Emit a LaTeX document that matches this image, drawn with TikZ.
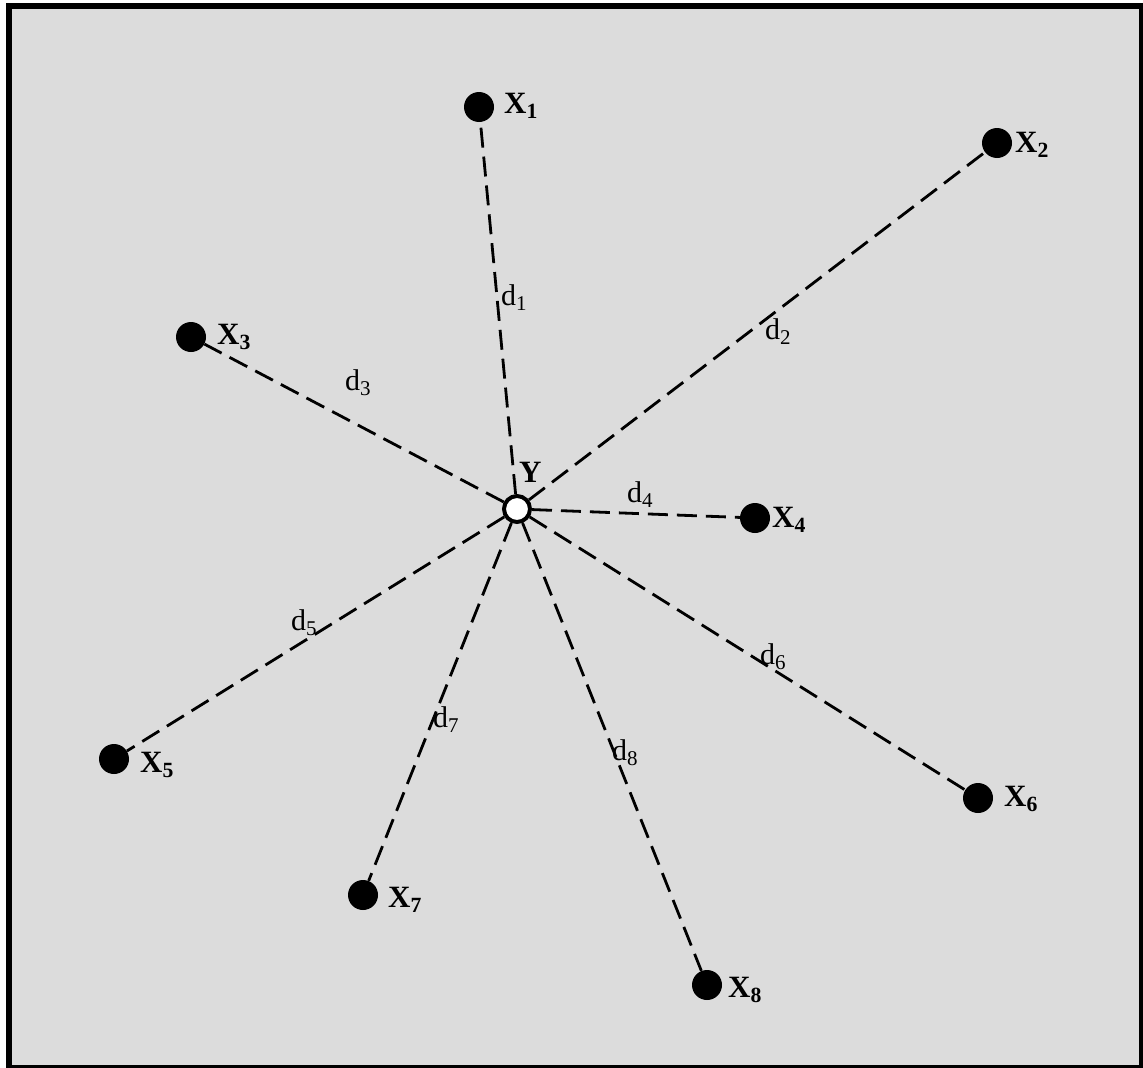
\documentclass[tikz,border=0pt]{standalone}
\usepackage{fontspec}
\setmainfont{Liberation Serif}
\definecolor{bg}{RGB}{220,220,220}
\tikzset{
  pt/.style={circle,fill=black,inner sep=0pt,minimum size=30pt},
  ctr/.style={circle,draw=black,fill=white,line width=4pt,inner sep=0pt,minimum size=26pt},
  xlab/.style={anchor=base west,inner sep=0pt,font=\fontsize{31}{36}\selectfont\bfseries},
  dlab/.style={anchor=base west,inner sep=0pt,font=\fontsize{30}{34}\selectfont},
  link/.style={line width=2.8pt,dash pattern=on 20pt off 9pt},
}
\begin{document}
\begin{tikzpicture}[x=1pt,y=-1pt]
\useasboundingbox (0,0) rectangle (1143,1068);
\draw[line width=6pt,fill=bg] (8.7,6.3) rectangle (1141.7,1068.3);
\node[pt] (x1) at (479,107) {};
\node[pt] (x2) at (997,143) {};
\node[pt] (x3) at (191,337) {};
\node[pt] (x4) at (755,518) {};
\node[pt] (x5) at (114,759) {};
\node[pt] (x6) at (978,798) {};
\node[pt] (x7) at (363,895) {};
\node[pt] (x8) at (707,985) {};
\node[ctr] (y) at (517,509) {};
\foreach \i in {1,...,8} \draw[link] (y) -- (x\i);
\node[xlab] (lx1) at (504,113) {X\textsubscript{1}};
\node[xlab] (lx2) at (1015,152) {X\textsubscript{2}};
\node[xlab] (lx3) at (217,344) {X\textsubscript{3}};
\node[xlab] (lx4) at (772,527) {X\textsubscript{4}};
\node[xlab] (lx5) at (140,772) {X\textsubscript{5}};
\node[xlab] (lx6) at (1004,806) {X\textsubscript{6}};
\node[xlab] (lx7) at (388,907) {X\textsubscript{7}};
\node[xlab] (lx8) at (728,997) {X\textsubscript{8}};
\node[xlab] (ly) at (519,482) {Y};
\node[dlab] (d1) at (501,305) {d\textsubscript{1}};
\node[dlab] (d2) at (765,339) {d\textsubscript{2}};
\node[dlab] (d3) at (345,390) {d\textsubscript{3}};
\node[dlab] (d4) at (627,502) {d\textsubscript{4}};
\node[dlab] (d5) at (291,630) {d\textsubscript{5}};
\node[dlab] (d6) at (760,664) {d\textsubscript{6}};
\node[dlab] (d7) at (433,727) {d\textsubscript{7}};
\node[dlab] (d8) at (612,760) {d\textsubscript{8}};
\end{tikzpicture}
\end{document}
